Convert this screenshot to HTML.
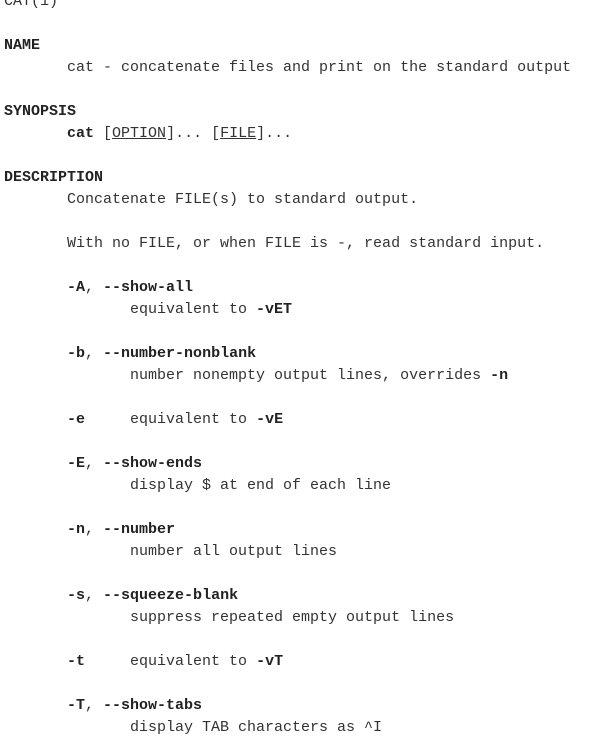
<!DOCTYPE html>
<html><head><style>
html,body{margin:0;padding:0;background:#fff;width:605px;height:742px;overflow:hidden}
pre{position:absolute;left:4px;top:-9px;margin:0;font-family:"Liberation Mono","DejaVu Sans Mono",monospace;font-size:15px;line-height:22px;color:#333}
b{font-weight:bold;color:#222}
u{text-decoration:underline}
</style></head><body><pre>CAT(1)

<b>NAME</b>
       cat - concatenate files and print on the standard output

<b>SYNOPSIS</b>
       <b>cat</b> [<u>OPTION</u>]... [<u>FILE</u>]...

<b>DESCRIPTION</b>
       Concatenate FILE(s) to standard output.

       With no FILE, or when FILE is -, read standard input.

       <b>-A</b>, <b>--show-all</b>
              equivalent to <b>-vET</b>

       <b>-b</b>, <b>--number-nonblank</b>
              number nonempty output lines, overrides <b>-n</b>

       <b>-e</b>     equivalent to <b>-vE</b>

       <b>-E</b>, <b>--show-ends</b>
              display $ at end of each line

       <b>-n</b>, <b>--number</b>
              number all output lines

       <b>-s</b>, <b>--squeeze-blank</b>
              suppress repeated empty output lines

       <b>-t</b>     equivalent to <b>-vT</b>

       <b>-T</b>, <b>--show-tabs</b>
              display TAB characters as ^I
</pre></body></html>
